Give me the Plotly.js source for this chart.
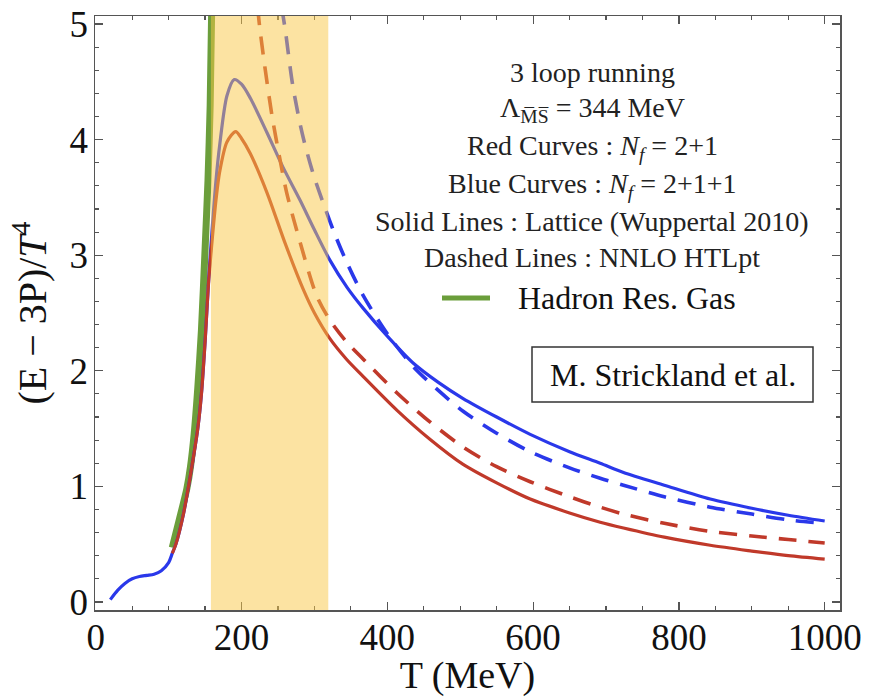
<!DOCTYPE html>
<html>
<head>
<meta charset="utf-8">
<script src="https://cdn.plot.ly/plotly-3.0.1.min.js"></script>
<style>html,body{margin:0;padding:0;background:#fff;}#chart{width:879px;height:697px;}</style>
</head>
<body>
<div id="chart"></div>
<script>
// Lattice (Wuppertal 2010), Nf = 2+1+1 (blue solid)
const blueLatT = [20,30,40,50,60,70,80,90,100,105,110,120,130,140,145,150,155,160,165,170,180,190,200,212,235,257,280,300,321,345,367,400,435,470,504,550,596,650,692,724,780,843,900,950,1000];
const blueLatY = [0.02,0.10,0.16,0.20,0.22,0.23,0.24,0.27,0.34,0.42,0.50,0.75,1.10,1.50,1.80,2.25,2.80,3.25,3.65,3.95,4.38,4.52,4.48,4.36,4.06,3.76,3.48,3.22,2.96,2.72,2.54,2.30,2.07,1.90,1.76,1.60,1.45,1.30,1.20,1.12,1.01,0.89,0.81,0.75,0.70];
// Lattice (Wuppertal 2010), Nf = 2+1 (red solid)
const redLatT = [105,110,120,130,140,145,150,155,160,165,170,180,192,200,212,235,260,285,300,321,344,367,413,458,504,550,596,650,692,724,780,843,900,950,1000];
const redLatY = [0.42,0.50,0.75,1.10,1.50,1.80,2.25,2.78,3.15,3.48,3.72,3.98,4.07,4.01,3.88,3.54,3.10,2.70,2.50,2.28,2.10,1.95,1.66,1.41,1.19,1.03,0.89,0.77,0.69,0.64,0.56,0.49,0.44,0.40,0.37];
// NNLO HTLpt, Nf = 2+1+1 (blue dashed)
const blueHtlT = [255,260,270,283,298,315,330,345,367,400,435,470,504,550,596,650,692,724,780,843,900,950,1000];
const blueHtlY = [5.15,4.95,4.48,4.06,3.71,3.40,3.15,2.93,2.65,2.32,2.04,1.83,1.65,1.46,1.30,1.16,1.07,1.01,0.91,0.82,0.76,0.71,0.68];
// NNLO HTLpt, Nf = 2+1 (red dashed)
const redHtlT = [222,225,232,242,253,262,280,303,321,344,367,413,458,504,550,596,650,692,724,780,843,900,950,1000];
const redHtlY = [5.15,4.97,4.63,4.20,3.82,3.54,3.12,2.65,2.44,2.25,2.10,1.81,1.56,1.34,1.17,1.04,0.91,0.82,0.76,0.68,0.61,0.57,0.54,0.51];
// Hadron resonance gas (green)
const hrgT = [105,115,125,130,135,140,145,150,154,157,159];
const hrgY = [0.47,0.72,0.98,1.17,1.45,1.85,2.35,3.05,3.65,4.30,5.10];
// Shaded transition band (MeV)
const bandT = [158, 319];
// Axis ticks
const xTicks = [0,200,400,600,800,1000];
const yTicks = [0,1,2,3,4,5];
// Legend / caption text
const infoLines = [
  "3 loop running",
  "Λ<sub>M\u0305S\u0305</sub> = 344 MeV",
  "Red Curves : <i>N<sub>f</sub></i> = 2+1",
  "Blue Curves : <i>N<sub>f</sub></i> = 2+1+1",
  "Solid Lines : Lattice (Wuppertal 2010)",
  "Dashed Lines : NNLO HTLpt"
];
const hrgLabel = "Hadron Res. Gas";
const creditLabel = "M. Strickland et al.";

const BLUE = "#2a38ea", RED = "#c0392a", GREEN = "#6b9e3b";
const serif = "'Liberation Serif', 'Times New Roman', Times, serif";

const traces = [
  {x: hrgT, y: hrgY, mode: "lines", line: {color: GREEN, width: 7, shape: "spline", smoothing: 0.6}, hoverinfo: "skip"},
  {x: blueLatT, y: blueLatY, mode: "lines", line: {color: BLUE, width: 3.2, shape: "spline", smoothing: 0.8}},
  {x: redLatT, y: redLatY, mode: "lines", line: {color: RED, width: 3.2, shape: "spline", smoothing: 0.8}},
  {x: blueHtlT, y: blueHtlY, mode: "lines", line: {color: BLUE, width: 3.6, dash: "18px,12px", shape: "spline", smoothing: 0.8}},
  {x: redHtlT, y: redHtlY, mode: "lines", line: {color: RED, width: 3.6, dash: "18px,12px", shape: "spline", smoothing: 0.8}}
];

const px2x = p => (p - 95) / 745;
const py2y = p => (610 - p) / 594;
const lineYs = [73, 110, 147, 185, 222, 257];

const annotations = infoLines.map((t, i) => ({
  text: t, xref: "paper", yref: "paper", x: px2x(592), y: py2y(lineYs[i]),
  xanchor: "center", yanchor: "middle", showarrow: false,
  font: {family: serif, size: 28, color: "#222"}
}));
annotations.push({text: hrgLabel, xref: "paper", yref: "paper", x: px2x(516), y: py2y(298),
  xanchor: "left", yanchor: "middle", showarrow: false, font: {family: serif, size: 32, color: "#111"}});
annotations.push({text: creditLabel, xref: "paper", yref: "paper", x: px2x(673), y: py2y(375),
  xanchor: "center", yanchor: "middle", showarrow: false, font: {family: serif, size: 32, color: "#111"}});

const shapes = [
  {type: "rect", xref: "x", yref: "paper", x0: bandT[0], x1: bandT[1], y0: 0, y1: 1,
   fillcolor: "rgba(249,200,70,0.5)", line: {width: 0}, layer: "above"},
  {type: "line", xref: "paper", yref: "paper", x0: px2x(442), x1: px2x(490), y0: py2y(298), y1: py2y(298),
   line: {color: GREEN, width: 5}},
  {type: "rect", xref: "paper", yref: "paper", x0: px2x(532), x1: px2x(813), y0: py2y(402), y1: py2y(347),
   line: {color: "#333", width: 1.5}, fillcolor: "rgba(0,0,0,0)"}
];

const axisCommon = {
  showline: true, mirror: "allticks", linecolor: "#555", linewidth: 1.5,
  ticks: "inside", ticklen: 8, tickwidth: 1.2, tickcolor: "#555",
  showgrid: false, zeroline: false,
  tickfont: {family: serif, size: 37, color: "#111"}
};

const layout = {
  width: 879, height: 697,
  margin: {l: 95, r: 39, t: 16, b: 87},
  paper_bgcolor: "#fff", plot_bgcolor: "#fff",
  showlegend: false,
  xaxis: Object.assign({}, axisCommon, {
    range: [-1, 1021], tickvals: xTicks, ticktext: xTicks.map(String),
    ticklabelstandoff: -6,
    minor: {dtick: 50, tick0: 0, ticks: "inside", ticklen: 4, tickcolor: "#555", showgrid: false},
    title: {text: "T (MeV)", font: {family: serif, size: 38, color: "#111"}, standoff: 0}
  }),
  yaxis: Object.assign({}, axisCommon, {
    range: [-0.07, 5.07], tickvals: yTicks, ticktext: yTicks.map(String),
    ticklabelstandoff: -2,
    minor: {dtick: 0.2, tick0: 0, ticks: "inside", ticklen: 4, tickcolor: "#555", showgrid: false},
    title: {text: "(E − 3P)/<i>T</i><sup>4</sup>", font: {family: serif, size: 40, color: "#111"}, standoff: 10}
  }),
  annotations: annotations,
  shapes: shapes
};

Plotly.newPlot("chart", traces, layout, {displayModeBar: false, staticPlot: true});
</script>
</body>
</html>
